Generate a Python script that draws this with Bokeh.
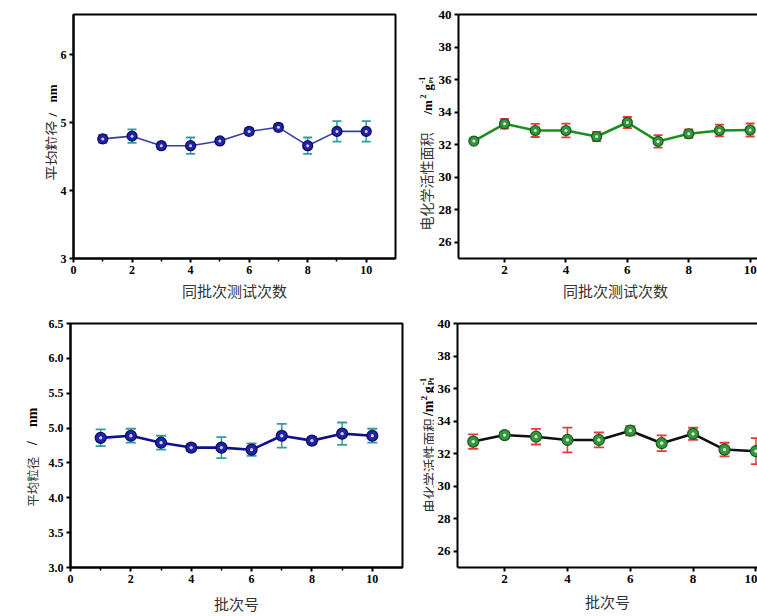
import math
from bokeh.plotting import figure
from bokeh.layouts import column, row
from bokeh.models import FixedTicker, LinearAxis, PrintfTickFormatter, Range1d
from bokeh.core.properties import value
from bokeh.embed import file_html
from bokeh.resources import INLINE

# ---------------- data ----------------
runs = [1, 2, 3, 4, 5, 6, 7, 8, 9, 10]

size_same_batch = [4.76, 4.80, 4.66, 4.66, 4.73, 4.87, 4.93, 4.66, 4.87, 4.87]
size_same_batch_err = [0.06, 0.10, 0.05, 0.12, 0.04, 0.05, 0.05, 0.12, 0.15, 0.15]

ecsa_same_batch = [32.22, 33.28, 32.87, 32.87, 32.50, 33.36, 32.20, 32.67, 32.87, 32.90]
ecsa_same_batch_err = [0.12, 0.30, 0.40, 0.42, 0.28, 0.34, 0.38, 0.26, 0.36, 0.40]

size_batches = [4.86, 4.89, 4.79, 4.72, 4.72, 4.69, 4.89, 4.82, 4.92, 4.89]
size_batches_err = [0.12, 0.10, 0.10, 0.05, 0.15, 0.09, 0.17, 0.05, 0.16, 0.10]

ecsa_batches = [32.74, 33.14, 33.04, 32.84, 32.84, 33.41, 32.64, 33.22, 32.25, 32.15]
ecsa_batches_err = [0.44, 0.17, 0.48, 0.76, 0.46, 0.28, 0.48, 0.37, 0.42, 0.80]

size_yticks_int = [3, 4, 5, 6]
size_yticks_half = [3.0, 3.5, 4.0, 4.5, 5.0, 5.5, 6.0, 6.5]
ecsa_yticks = [26, 28, 30, 32, 34, 36, 38, 40]
xticks_from0 = [0, 2, 4, 6, 8, 10]
xminor_odd = [1, 3, 5, 7, 9]
xticks_from2 = [2, 4, 6, 8, 10]

label_same = "同批次测试次数"
label_batch = "批次号"
label_size_cn = "平均粒径"
label_ecsa_cn = "电化学活性面积"

SERIF = "Liberation Serif"
CJK = "Noto Sans CJK SC"
CJK_COLOR = "#333333"
R90 = math.pi / 2

# frame rows (page pixels): top / bottom of the plotting frames
ROW1_H, ROW1_TOP, ROW1_BOT = 310, 14, 258
ROW2_H, ROW2_TOP, ROW2_BOT = 306, 323, 568


def base_fig(w, h, xr, yr, bl, br, bt, bb, tick_size, top_axis=False):
    p = figure(width=w, height=h, x_range=xr, y_range=yr,
               output_backend="svg", toolbar_location=None,
               min_border_left=bl, min_border_right=br,
               min_border_top=bt, min_border_bottom=bb)
    p.xgrid.visible = False
    p.ygrid.visible = False
    p.background_fill_color = "white"
    p.border_fill_color = "white"
    xa, ya = p.below[0], p.left[0]
    for ax in (xa, ya):
        ax.axis_line_width = 2
        ax.axis_line_color = "black"
        ax.major_tick_line_width = 2
        ax.major_tick_line_color = "black"
        ax.major_tick_out = 4
        ax.major_tick_in = 0
        ax.minor_tick_line_width = 1.5
        ax.minor_tick_out = 3
        ax.minor_tick_in = 0
        ax.major_label_text_font = SERIF
        ax.major_label_text_font_style = "bold"
        ax.major_label_text_font_size = tick_size
        ax.major_label_text_color = "black"
        ax.major_label_standoff = 3
    ya.axis_label = None
    xa.axis_label_text_font = CJK
    xa.axis_label_text_font_style = "normal"
    xa.axis_label_text_font_size = "15px"
    xa.axis_label_text_color = CJK_COLOR
    if top_axis:
        p.outline_line_color = None
        ta = LinearAxis(ticker=FixedTicker(ticks=[]), axis_line_width=2,
                        axis_line_color="black", major_tick_line_color=None,
                        minor_tick_line_color=None, major_label_text_font_size="0px",
                        axis_label=None)
        p.add_layout(ta, "above")
    else:
        p.outline_line_color = "black"
        p.outline_line_width = 2
    return p, xa, ya


def strip(w, h, left, top_b, bot_b, frame_top, frame_bot, pieces):
    """A bare figure in page-pixel units carrying a rotated y-axis title."""
    s = figure(width=w, height=h,
               x_range=Range1d(left, left + w),
               y_range=Range1d(frame_bot, frame_top),
               output_backend="svg", toolbar_location=None,
               min_border_left=0, min_border_right=0,
               min_border_top=top_b, min_border_bottom=bot_b,
               x_axis_location=None, y_axis_location=None)
    s.outline_line_color = None
    s.xgrid.visible = False
    s.ygrid.visible = False
    s.border_fill_color = "white"
    s.background_fill_color = "white"
    for (px, py, txt, font, size, color, style) in pieces:
        s.text(x=[px], y=[py], text=[txt], angle=R90,
               text_font=value(font), text_font_size=value(f"{size}px"),
               text_font_style=style, text_color=color,
               text_align="left", text_baseline="alphabetic")
    return s


def series(p, x, y, e, line_color, line_w, err_color, fill, edge, hi, msize, cap):
    lo = [a - b for a, b in zip(y, e)]
    up = [a + b for a, b in zip(y, e)]
    p.line(x, y, line_color=line_color, line_width=line_w)
    p.segment(x0=x, y0=lo, x1=x, y1=up, line_color=err_color, line_width=1.5)
    p.scatter(x, up, marker="dash", size=cap, line_color=err_color, line_width=1.8)
    p.scatter(x, lo, marker="dash", size=cap, line_color=err_color, line_width=1.8)
    p.scatter(x, y, marker="circle", size=msize, fill_color=fill, line_color=edge, line_width=1.2)
    p.scatter(x, y, marker="circle", size=msize * 0.3, fill_color=hi, line_color=None, fill_alpha=0.85)


bt1, bb1 = ROW1_TOP, ROW1_H - ROW1_BOT
bt2, bb2 = ROW2_TOP - ROW1_H, ROW1_H + ROW2_H - ROW2_BOT

# ---------------- top-left ----------------
s1 = strip(57, ROW1_H, 0, bt1, bb1, ROW1_TOP, ROW1_BOT, [
    (51, 180, label_size_cn, CJK, 15, CJK_COLOR, "normal"),
    (52, 116, "/", SERIF, 13, "black", "bold"),
    (52, 102, "nm", SERIF, 13, "black", "bold"),
])
p1, x1, y1 = base_fig(343, ROW1_H, (0, 11), (3, 6.59), 16, 5, bt1, bb1, "12px")
x1.ticker = FixedTicker(ticks=xticks_from0, minor_ticks=xminor_odd)
y1.ticker = FixedTicker(ticks=size_yticks_int)
x1.axis_label = label_same
x1.axis_label_standoff = 3
series(p1, runs, size_same_batch, size_same_batch_err, "#3a3aa6", 1.6, "#2f9e98",
       "#2222a8", "#0a0a5a", "#eef2ff", 10, 9)

# ---------------- top-right ----------------
s2 = strip(35, ROW1_H, 400, bt1, bb1, ROW1_TOP, ROW1_BOT, [
    (425, 230, label_ecsa_cn, CJK, 14, CJK_COLOR, "normal"),
    (427, 114, "/m", SERIF, 13, "black", "bold"),
    (422, 98, "2", SERIF, 8, "black", "bold"),
    (427, 90, "g", SERIF, 13, "black", "bold"),
    (421, 83, "-1", SERIF, 8, "black", "bold"),
    (430, 83, "Pt", SERIF, 7, "black", "bold"),
])
p2, x2, y2 = base_fig(322, ROW1_H, (0.5, 10.24), (25, 40), 19, 0, bt1, bb1, "13px", top_axis=True)
x2.ticker = FixedTicker(ticks=xticks_from2)
y2.ticker = FixedTicker(ticks=ecsa_yticks)
x2.axis_label = "\u3000" + label_same
x2.axis_label_standoff = 3
series(p2, runs, ecsa_same_batch, ecsa_same_batch_err, "#1b8f1b", 2.5, "#e8393a",
       "#34963f", "#145a1e", "#f4fff4", 10, 9)

# ---------------- bottom-left ----------------
s3 = strip(40, ROW2_H, 0, bt2, bb2, ROW2_TOP, ROW2_BOT, [
    (32, 507, label_size_cn, CJK, 12.5, CJK_COLOR, "normal"),
    (32, 445, "/", SERIF, 14, "black", "bold"),
    (32, 427, "nm", SERIF, 14, "black", "bold"),
])
p3, x3, y3 = base_fig(365, ROW2_H, (0, 11), (3, 6.5), 30, 3, bt2, bb2, "12px")
x3.ticker = FixedTicker(ticks=xticks_from0, minor_ticks=xminor_odd)
y3.ticker = FixedTicker(ticks=size_yticks_half)
y3.formatter = PrintfTickFormatter(format="%.1f")
x3.axis_label = label_batch
x3.axis_label_standoff = 7
series(p3, runs, size_batches, size_batches_err, "#10108e", 2.6, "#2f9e98",
       "#2222a8", "#0a0a5a", "#eef2ff", 11, 10)

# ---------------- bottom-right ----------------
s4 = strip(29, ROW2_H, 405, bt2, bb2, ROW2_TOP, ROW2_BOT, [
    (428, 513, label_ecsa_cn, CJK, 13.5, CJK_COLOR, "normal"),
    (428, 416, "/m", SERIF, 14, "black", "bold"),
    (423, 400, "2", SERIF, 9, "black", "bold"),
    (428, 393, "g", SERIF, 14, "black", "bold"),
    (422, 385, "-1", SERIF, 9, "black", "bold"),
    (431, 385, "Pt", SERIF, 8, "black", "bold"),
])
p4, x4, y4 = base_fig(323, ROW2_H, (0.5, 10.05), (25, 40), 23, 0, bt2, bb2, "13px", top_axis=True)
x4.ticker = FixedTicker(ticks=xticks_from2)
y4.ticker = FixedTicker(ticks=ecsa_yticks)
x4.axis_label = label_batch
x4.axis_label_standoff = 5
series(p4, runs, ecsa_batches, ecsa_batches_err, "#101010", 2.6, "#e8393a",
       "#34963f", "#145a1e", "#f4fff4", 11, 10)

layout = column(row(s1, p1, s2, p2, spacing=0),
                row(s3, p3, s4, p4, spacing=0), spacing=0)
open("out.html", "w").write(file_html(layout, INLINE))
